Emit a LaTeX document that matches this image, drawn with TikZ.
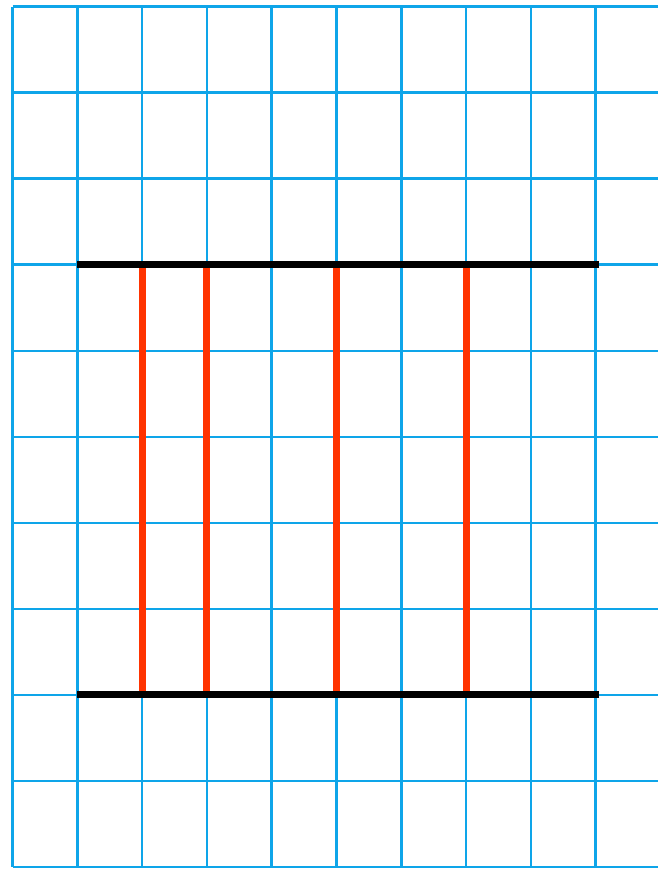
\documentclass[tikz,border=0pt]{standalone}
\usepackage{xcolor}
\usepackage{tikz}

\definecolor{gridblue}{RGB}{14,165,233}
\definecolor{rodred}{RGB}{255,51,0}

\begin{document}
\begin{tikzpicture}[x=1.296cm, y=-1.721cm]
		\def\N{9};
		\def\M{10};
		
		\useasboundingbox (-0.193,-0.076) rectangle (9.961,10.023);
		\clip (-0.193,-0.076) rectangle (9.961,10.023);
		
		\begin{scope}[gridblue, line width = 1.4pt]
			\foreach \i in {0,...,\N}
				\draw (\i,0) -- (\i,\M);
			\foreach \j in {0,...,\M}
				\draw (0,\j) -- (10.5,\j);
		\end{scope}
		
		\begin{scope}[rodred, line width = 4pt]
			\foreach \i in {2,3,5,7}
				\draw (\i,3) -- (\i,8);
		\end{scope}
		
		\begin{scope}[black, line width = 4pt]
			\draw (1,3) -- (9.05,3);
			\draw (1,8) -- (9.05,8);
		\end{scope}
	\end{tikzpicture}
\end{document}
